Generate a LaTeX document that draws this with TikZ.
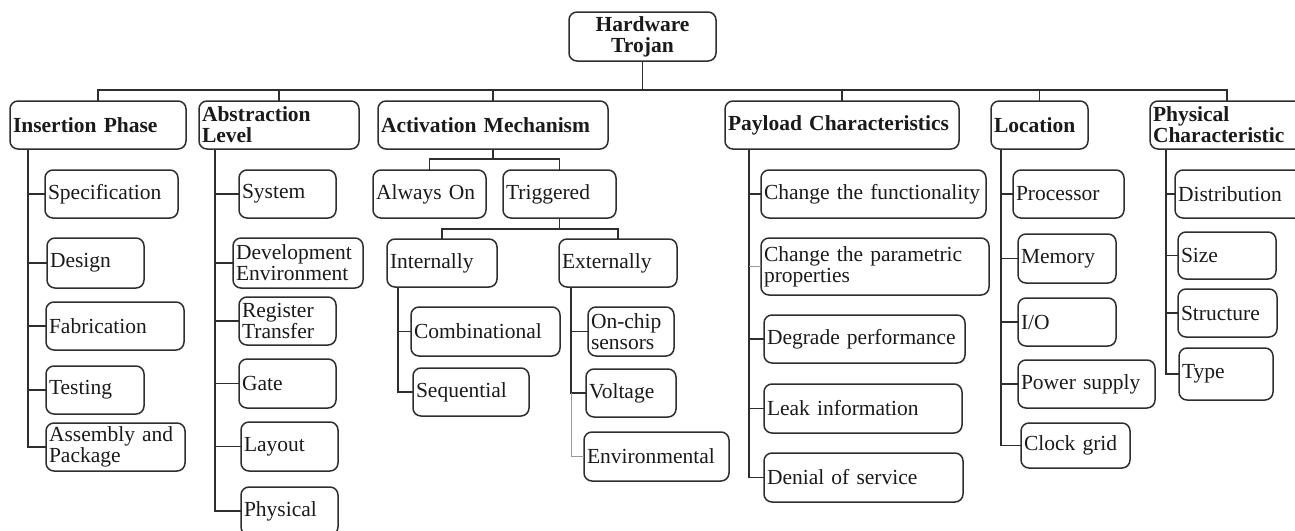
\documentclass[tikz,border=0pt]{standalone}
\usepackage{fontspec}
\setmainfont{Liberation Serif}
\definecolor{edge}{HTML}{2E2E2E}
\definecolor{ink}{HTML}{1A1A1A}
\definecolor{pale}{HTML}{9A9A9A}

% \tbox[style]{name}{x1}{y1}{x2}{y2}{text}: a box given by its corners
\newcommand\tbox[7][box]{%
  \pgfmathsetmacro\tbw{#5-#3-6}%
  \pgfmathsetmacro\tbh{#6-#4}%
  \node[#1, text width=\tbw pt, minimum height=\tbh pt] (#2) at ({(#3+#5)/2},{(#4+#6)/2}) {#7};%
}

\begin{document}
\begin{tikzpicture}[x=1pt,y=-1pt,
  box/.style={draw=edge, line width=1.5pt, rounded corners=8pt, inner xsep=3pt,
    inner ysep=0pt, outer sep=0pt, align=left, text=ink,
    font=\fontsize{21.5}{21}\selectfont,
    execute at begin node={\hyphenpenalty=10000\exhyphenpenalty=10000}},
  head/.style={box, font=\fontsize{21.5}{21}\selectfont\bfseries},
  link/.style={draw=edge, line width=1.5pt},
  faint/.style={draw=pale, line width=0.8pt}]
\useasboundingbox (0,0) rectangle (1295,530);
\clip (0,0) rectangle (1295,530);

% root
\tbox[{head,align=center}]{ht}{569}{12}{716}{61}{Hardware\\Trojan}

% categories
\tbox[head]{ins}{10}{101}{186}{149}{Insertion~Phase}
\tbox[head]{abs}{199}{101}{359}{149}{Abstraction\\Level}
\tbox[head]{act}{378}{101}{608}{149}{Activation~Mechanism}
\tbox[head]{pay}{725}{101}{959}{149}{Payload~Characteristics}
\tbox[head]{loc}{991}{101}{1088}{149}{Location}
\tbox[head]{phy}{1150}{101}{1304}{149}{Physical\\Characteristic}

% insertion phase
\tbox{spec}{45}{170}{178}{218}{Specification}
\tbox{des}{47}{238}{144}{288}{Design}
\tbox{fab}{46}{302}{184}{350}{Fabrication}
\tbox{tst}{46}{366}{144}{414}{Testing}
\tbox{asm}{46}{423}{185}{471}{Assembly and\\Package}

% abstraction level
\tbox{sys}{239}{170}{336}{218}{System}
\tbox{dev}{233}{238}{363}{288}{Development\\Environment}
\tbox{rtl}{239}{297}{336}{345}{Register\\Transfer}
\tbox{gate}{239}{359}{336}{408}{Gate}
\tbox{lay}{241}{422}{338}{471}{Layout}
\tbox{phl}{241}{487}{338}{535}{Physical}

% activation mechanism
\tbox{aon}{373}{170}{486}{218}{Always~On}
\tbox{trg}{503}{170}{616}{218}{Triggered}
\tbox{int}{387}{239}{497}{287}{Internally}
\tbox{ext}{559}{239}{677}{287}{Externally}
\tbox{comb}{411}{307}{560}{356}{Combinational}
\tbox{seq}{413}{368}{529}{416}{Sequential}
\tbox{onc}{588}{307}{674}{356}{On-chip\\sensors}
\tbox{volt}{586}{369}{676}{417}{Voltage}
\tbox{env}{584}{432}{729}{481}{Environmental}

% payload characteristics
\tbox{fun}{761}{170}{986}{218}{Change~the~functionality}
\tbox{par}{761}{238}{989}{295}{Change the parametric\\properties}
\tbox{deg}{764}{315}{965}{363}{Degrade~performance}
\tbox{leak}{764}{384}{962}{433}{Leak~information}
\tbox{dos}{764}{453}{963}{502}{Denial~of~service}

% location
\tbox{proc}{1013}{170}{1124}{218}{Processor}
\tbox{mem}{1018}{234}{1116}{283}{Memory}
\tbox{io}{1018}{298}{1116}{346}{I/O}
\tbox{pwr}{1018}{360}{1155}{408}{Power~supply}
\tbox{clk}{1021}{423}{1130}{468}{Clock~grid}

% physical characteristic
\tbox{dist}{1175}{170}{1304}{218}{Distribution}
\tbox{size}{1178}{232}{1276}{279}{Size}
\tbox{stru}{1178}{289}{1277}{337}{Structure}
\tbox{type}{1179}{348}{1273}{400}{Type}

% root to categories
\coordinate (bus) at (642.5,90);
\draw[link] (ht.south) -- (bus);
\foreach \c in {ins,abs,act,pay,loc,phy} \draw[link] (bus) -| (\c.north);

% spines of the category lists
\coordinate (insS) at (28,149);
\foreach \c in {spec,des,fab,tst,asm} \draw[link] (insS) |- (\c.west);
\coordinate (absS) at (215,149);
\foreach \c in {sys,dev,rtl,gate,lay,phl} \draw[link] (absS) |- (\c.west);

% activation tree
\draw[link] (act.south) -- ++(0,10) -| (aon.north);
\draw[link] (act.south) -- ++(0,10) -| (trg.north);
\draw[link] (trg.south) -- ++(0,11) -| (int.north);
\draw[link] (trg.south) -- ++(0,11) -| (ext.north);
\coordinate (intS) at (398,287);
\foreach \c in {comb,seq} \draw[link] (intS) |- (\c.west);
\coordinate (extS) at (571,287);
\foreach \c in {onc,volt} \draw[link] (extS) |- (\c.west);
\draw[faint] (extS |- volt.west) |- (env.west);

% payload
\coordinate (payS) at (749,149);
\foreach \c in {fun,deg,leak,dos} \draw[link] (payS) |- (\c.west);
\draw[faint] (payS |- par.west) -- (par.west);

% location
\coordinate (locS) at (1001,149);
\foreach \c in {proc,mem,io,pwr,clk} \draw[link] (locS) |- (\c.west);

% physical characteristic
\coordinate (phyS) at (1166,149);
\foreach \c in {dist,size,stru,type} \draw[link] (phyS) |- (\c.west);
\end{tikzpicture}
\end{document}
